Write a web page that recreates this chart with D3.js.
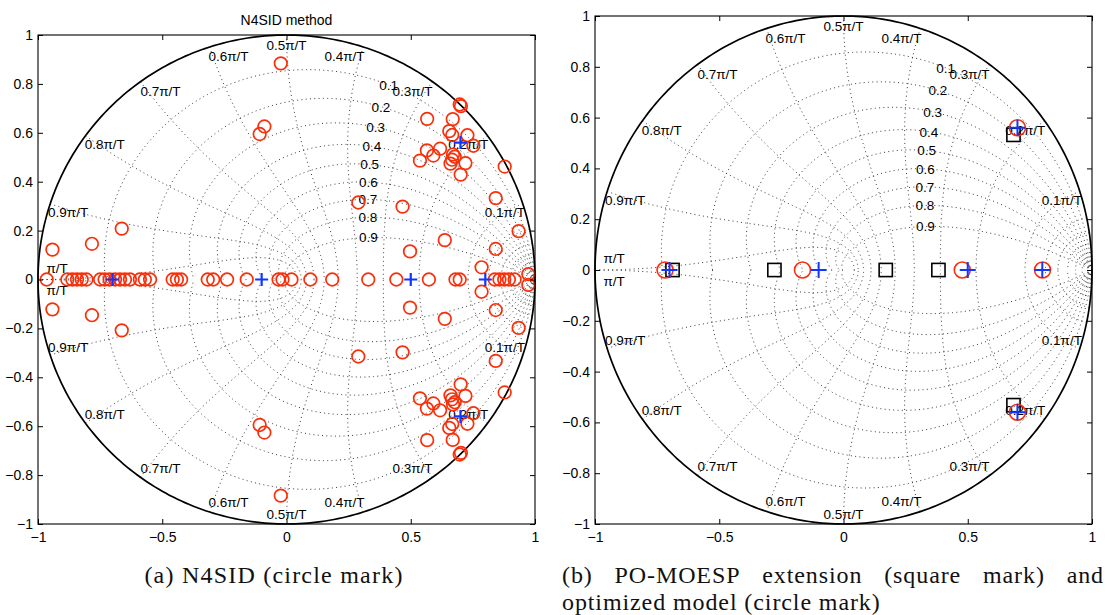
<!DOCTYPE html>
<html>
<head>
<meta charset="utf-8">
<script src="https://cdn.jsdelivr.net/npm/d3@7"></script>
<style>
  html, body { margin: 0; padding: 0; background: #fff; }
  svg { display: block; }
</style>
</head>
<body>
<svg id="chart" width="1107" height="615"></svg>
<script>
// ---------------- data ----------------
const ticksX = [-1, -0.5, 0, 0.5, 1];
const ticksY = [-1, -0.8, -0.6, -0.4, -0.2, 0, 0.2, 0.4, 0.6, 0.8, 1];

// z-grid: damping ratios and natural frequencies (fractions of pi/T)
const dampingRatios = [0.1, 0.2, 0.3, 0.4, 0.5, 0.6, 0.7, 0.8, 0.9];
const natFreqs = [0.1, 0.2, 0.3, 0.4, 0.5, 0.6, 0.7, 0.8, 0.9, 1.0];
const extraFreqs = [0.006, 0.013, 0.022, 0.033, 0.047, 0.066];
const zetaLabelFreq = 0.35;

// true system poles (blue +)
const trueRe = [-0.7, -0.1, 0.5, 0.8, 0.7, 0.7];
const trueIm = [0, 0, 0, 0, 0.56, -0.56];

// N4SID identified poles (left panel, red circles)
const n4sidRe = [
  -0.965, -0.882, -0.862, -0.843, -0.824, -0.805, -0.750, -0.732, -0.712, -0.690,
  -0.670, -0.650, -0.630, -0.590, -0.570, -0.549, -0.458, -0.441, -0.424, -0.317,
  -0.295, -0.239, -0.160, -0.032, -0.016, 0.020, 0.096, 0.184, 0.329, 0.442,
  0.573, 0.680, 0.697, 0.838, 0.857, 0.876, 0.895, 0.918,
  -0.942, -0.783, -0.663, -0.108, -0.089, -0.023, 0.289, 0.467, 0.497, 0.637,
  0.785, 0.842, 0.842, 0.934, 0.878, 0.973,
  0.697, 0.702, 0.566, 0.669, 0.655, 0.667, 0.728, 0.752, 0.565, 0.618,
  0.591, 0.537, 0.670, 0.677, 0.666, 0.660, 0.720, 0.701,
  -0.942, -0.783, -0.663, -0.108, -0.089, -0.023, 0.289, 0.467, 0.497, 0.637,
  0.785, 0.842, 0.842, 0.934, 0.878, 0.973,
  0.697, 0.702, 0.566, 0.669, 0.655, 0.667, 0.728, 0.752, 0.565, 0.618,
  0.591, 0.537, 0.670, 0.677, 0.666, 0.660, 0.720, 0.701
];
const n4sidIm = [
  0, 0, 0, 0, 0, 0, 0, 0, 0, 0,
  0, 0, 0, 0, 0, 0, 0, 0, 0, 0,
  0, 0, 0, 0, 0, 0, 0, 0, 0, 0,
  0, 0, 0, 0, 0, 0, 0, 0,
  0.122, 0.146, 0.208, 0.595, 0.626, 0.884, 0.315, 0.298, 0.115, 0.161,
  0.050, 0.125, 0.333, 0.198, 0.462, 0.022,
  0.716, 0.709, 0.657, 0.656, 0.607, 0.591, 0.590, 0.547, 0.528, 0.535,
  0.507, 0.486, 0.511, 0.502, 0.490, 0.474, 0.476, 0.429,
  -0.122, -0.146, -0.208, -0.595, -0.626, -0.884, -0.315, -0.298, -0.115, -0.161,
  -0.050, -0.125, -0.333, -0.198, -0.462, -0.022,
  -0.716, -0.709, -0.657, -0.656, -0.607, -0.591, -0.590, -0.547, -0.528, -0.535,
  -0.507, -0.486, -0.511, -0.502, -0.490, -0.474, -0.476, -0.429
];

// PO-MOESP extension poles (right panel, black squares)
const moespRe = [-0.688, -0.278, 0.170, 0.382, 0.684, 0.684];
const moespIm = [0, 0, 0, 0, 0.532, -0.532];

// optimized model poles (right panel, red circles)
const optRe = [-0.718, -0.165, 0.478, 0.801, 0.700, 0.700];
const optIm = [0, 0, 0, 0, 0.560, -0.560];

const titleLeft = "N4SID method";
const captionA = "(a) N4SID (circle mark)";
const captionB1 = ["(b)", "PO-MOESP", "extension", "(square", "mark)", "and"];
const captionB2 = "optimized model (circle mark)";

// ---------------- drawing ----------------
const svg = d3.select("#chart");
const SANS = "'Liberation Sans', Arial, Helvetica, sans-serif";
const SERIF = "'Liberation Serif', 'Times New Roman', serif";
const RED = "#fa2f0a";
const BLUE = "#1236ff";
const fmt = d3.format("");

function zip(re, im) { return re.map((r, i) => [r, im[i]]); }

function panel(cfg) {
  const g = svg.append("g");
  const x = d3.scaleLinear().domain([-1, 1]).range([cfg.x0, cfg.x1]);
  const y = d3.scaleLinear().domain([-1, 1]).range([cfg.yb, cfg.yt]);
  const line = d3.line().x(d => x(d[0])).y(d => y(d[1]));

  const clipId = "clip" + cfg.id;
  g.append("clipPath").attr("id", clipId).append("rect")
    .attr("x", cfg.x0).attr("y", cfg.yt)
    .attr("width", cfg.x1 - cfg.x0).attr("height", cfg.yb - cfg.yt);

  const grid = g.append("g").attr("clip-path", `url(#${clipId})`)
    .attr("fill", "none").attr("stroke", "#222")
    .attr("stroke-width", 0.9).attr("stroke-dasharray", "1 3.3");

  // constant damping curves
  dampingRatios.forEach(z => {
    const m = z / Math.sqrt(1 - z * z);
    const pts = d3.range(0, 301).map(i => {
      const th = Math.PI * i / 300;
      const r = Math.exp(-m * th);
      return [r * Math.cos(th), r * Math.sin(th)];
    });
    grid.append("path").attr("d", line(pts));
    grid.append("path").attr("d", line(pts.map(p => [p[0], -p[1]])));
  });
  // constant natural frequency curves
  natFreqs.concat(extraFreqs).forEach(f => {
    const w = f * Math.PI;
    const pts = d3.range(0, 151).map(i => {
      const phi = Math.PI / 2 + (Math.PI / 2) * i / 150;
      const r = Math.exp(w * Math.cos(phi));
      const a = w * Math.sin(phi);
      return [r * Math.cos(a), r * Math.sin(a)];
    });
    grid.append("path").attr("d", line(pts));
    grid.append("path").attr("d", line(pts.map(p => [p[0], -p[1]])));
  });

  // unit circle
  const circ = d3.range(0, 361).map(i => {
    const t = 2 * Math.PI * i / 360;
    return [Math.cos(t), Math.sin(t)];
  });
  g.append("path").attr("d", line(circ)).attr("fill", "none")
    .attr("stroke", "#000").attr("stroke-width", 1.7);

  // grid labels
  const lab = g.append("g").attr("font-family", SANS).attr("font-size", 13.5)
    .attr("fill", "#000").attr("text-anchor", "middle");
  natFreqs.forEach(f => {
    const th = f * Math.PI;
    const txt = (f === 1 ? "" : f.toFixed(1)) + "\u03C0/T";
    let cx, cy;
    if (f === 1) { cx = -0.923; cy = 0.045; }
    else {
      const c = Math.cos(th), s = Math.sin(th);
      cx = 0.93 * c - 0.06 * s * s * Math.sign(Math.round(c * 1e9));
      cy = 0.99 * s - 0.03;
    }
    [1, -1].forEach(sg => {
      lab.append("text").attr("x", x(cx)).attr("y", y(sg * cy))
        .attr("dy", "0.36em").text(txt);
    });
  });
  dampingRatios.forEach(z => {
    const w = zetaLabelFreq * Math.PI;
    const r = Math.exp(-w * z);
    const a = w * Math.sqrt(1 - z * z);
    lab.append("text").attr("x", x(r * Math.cos(a))).attr("y", y(r * Math.sin(a)))
      .attr("dy", "0.36em").text(fmt(z));
  });

  // markers
  cfg.markers(g, x, y);

  // axes
  const axStyle = sel => {
    sel.select(".domain").remove();
    sel.selectAll("line").attr("stroke", "#000").attr("stroke-width", 1);
    sel.selectAll("text").attr("font-family", SANS).attr("font-size", 14).attr("fill", "#000");
    sel.attr("font-family", SANS);
  };
  g.append("g").attr("transform", `translate(${cfg.x0},0)`)
    .call(d3.axisLeft(y).tickValues(ticksY).tickSize(-5).tickPadding(5).tickFormat(fmt))
    .call(axStyle);
  g.append("g").attr("transform", `translate(${cfg.x1},0)`)
    .call(d3.axisRight(y).tickValues(ticksY).tickSize(-5).tickFormat(""))
    .call(axStyle);
  g.append("g").attr("transform", `translate(0,${cfg.yb})`)
    .call(d3.axisBottom(x).tickValues(ticksX).tickSize(-5).tickPadding(8).tickFormat(fmt))
    .call(axStyle);
  g.append("g").attr("transform", `translate(0,${cfg.yt})`)
    .call(d3.axisTop(x).tickValues(ticksX).tickSize(-5).tickFormat(""))
    .call(axStyle);
  g.append("rect").attr("x", cfg.x0).attr("y", cfg.yt)
    .attr("width", cfg.x1 - cfg.x0).attr("height", cfg.yb - cfg.yt)
    .attr("fill", "none").attr("stroke", "#000").attr("stroke-width", 1.1);

  if (cfg.title) {
    g.append("text").attr("x", (cfg.x0 + cfg.x1) / 2).attr("y", cfg.yt - 10)
      .attr("text-anchor", "middle").attr("font-family", SANS).attr("font-size", 14)
      .text(cfg.title);
  }
  return { x, y };
}

function plusMarks(g, x, y, pts, h, sw) {
  g.append("g").attr("stroke", BLUE).attr("stroke-width", sw).attr("fill", "none")
    .selectAll("path").data(pts).join("path")
    .attr("d", d => `M${x(d[0]) - h},${y(d[1])}H${x(d[0]) + h}M${x(d[0])},${y(d[1]) - h}V${y(d[1]) + h}`);
}

panel({
  id: "L", x0: 38, x1: 535, yt: 35, yb: 524, title: titleLeft,
  markers: (g, x, y) => {
    g.append("g").attr("fill", "none").attr("stroke", RED).attr("stroke-width", 1.7)
      .selectAll("circle").data(zip(n4sidRe, n4sidIm)).join("circle")
      .attr("cx", d => x(d[0])).attr("cy", d => y(d[1])).attr("r", 6.3);
    plusMarks(g, x, y, zip(trueRe, trueIm), 6.5, 2.2);
  }
});

panel({
  id: "R", x0: 595, x1: 1092, yt: 16, yb: 524, title: null,
  markers: (g, x, y) => {
    g.append("g").attr("fill", "none").attr("stroke", "#000").attr("stroke-width", 1.6)
      .selectAll("rect").data(zip(moespRe, moespIm)).join("rect")
      .attr("x", d => x(d[0]) - 6.6).attr("y", d => y(d[1]) - 6.6)
      .attr("width", 13.2).attr("height", 13.2);
    g.append("g").attr("fill", "none").attr("stroke", RED).attr("stroke-width", 1.6)
      .selectAll("circle").data(zip(optRe, optIm)).join("circle")
      .attr("cx", d => x(d[0])).attr("cy", d => y(d[1])).attr("r", 8);
    plusMarks(g, x, y, zip(trueRe, trueIm), 8, 2);
  }
});

// captions
const capA = svg.append("text").attr("x", 274).attr("y", 583)
  .attr("text-anchor", "middle").attr("font-family", SERIF).attr("font-size", 24)
  .attr("fill", "#111").text(captionA);
{
  const w = capA.node().getComputedTextLength();
  const target = 258;
  const ls = (target - w) / (captionA.length - 1);
  capA.attr("letter-spacing", ls);
}
// justified first line of caption (b)
{
  const left = 562, right = 1104;
  const words = captionB1.map(t => svg.append("text").attr("y", 583)
    .attr("font-family", SERIF).attr("font-size", 24).attr("fill", "#111")
    .attr("letter-spacing", 0.9).text(t));
  const widths = words.map(w => w.node().getComputedTextLength());
  const total = d3.sum(widths);
  const gap = (right - left - total) / (words.length - 1);
  let cx = left;
  words.forEach((w, i) => { w.attr("x", cx); cx += widths[i] + gap; });
  svg.append("text").attr("x", left).attr("y", 610)
    .attr("font-family", SERIF).attr("font-size", 24).attr("fill", "#111")
    .attr("letter-spacing", 0.9).text(captionB2);
}
</script>
</body>
</html>
